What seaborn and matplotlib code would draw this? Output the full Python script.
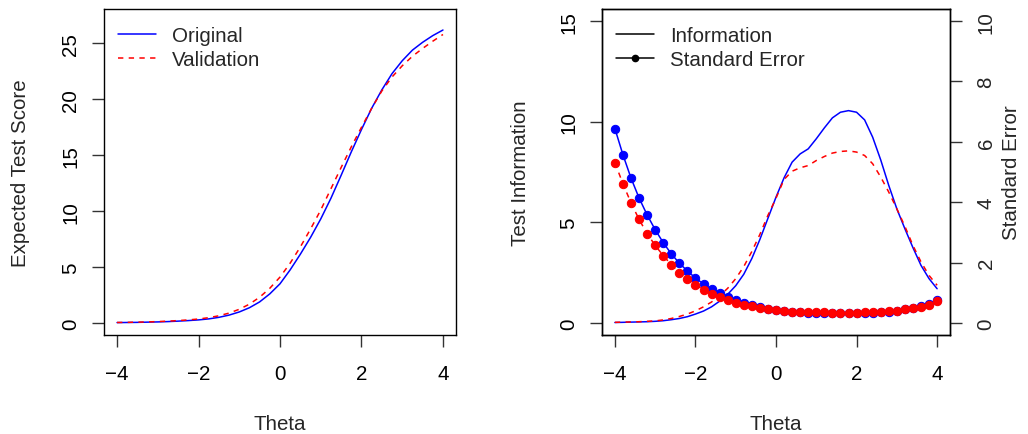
import numpy as np
import matplotlib
matplotlib.use("Agg")
import matplotlib.pyplot as plt
from matplotlib.lines import Line2D
import seaborn as sns

# ---- Expected test score curves (theta step 0.25) ----
theta_score = np.linspace(-4, 4, 33)
score_original = [0.03, 0.04, 0.05, 0.07, 0.09, 0.12, 0.16, 0.21, 0.27, 0.36,
                  0.50, 0.70, 0.98, 1.36, 1.88, 2.60, 3.50, 4.75, 6.15, 7.65,
                  9.30, 11.15, 13.20, 15.30, 17.30, 19.20, 20.85, 22.30, 23.45,
                  24.40, 25.10, 25.70, 26.20]
score_validation = [0.04, 0.05, 0.07, 0.09, 0.12, 0.16, 0.21, 0.27, 0.35, 0.47,
                    0.64, 0.88, 1.22, 1.68, 2.30, 3.10, 4.10, 5.35, 6.80, 8.40,
                    10.10, 12.00, 13.90, 15.75, 17.50, 19.20, 20.75, 22.00,
                    23.00, 23.85, 24.55, 25.20, 25.80]

# ---- Test information and standard error (theta step 0.2) ----
theta_info = np.linspace(-4, 4, 41)
info_original = [0.02, 0.03, 0.04, 0.05, 0.06, 0.08, 0.11, 0.16, 0.22, 0.31,
                 0.44, 0.59, 0.80, 1.08, 1.42, 1.85, 2.42, 3.20, 4.15, 5.20,
                 6.25, 7.21, 7.99, 8.40, 8.65, 9.15, 9.69, 10.19, 10.47, 10.55,
                 10.47, 10.09, 9.23, 8.10, 6.83, 5.67, 4.68, 3.74, 2.86, 2.20,
                 1.70]
info_validation = [0.03, 0.04, 0.05, 0.06, 0.08, 0.10, 0.15, 0.22, 0.32, 0.44,
                   0.60, 0.80, 1.04, 1.35, 1.72, 2.20, 2.80, 3.55, 4.40, 5.35,
                   6.20, 7.13, 7.54, 7.71, 7.82, 8.07, 8.27, 8.44, 8.52, 8.55,
                   8.49, 8.32, 7.91, 7.25, 6.50, 5.67, 4.80, 3.85, 3.03, 2.36,
                   1.87]
se_original = [6.44, 5.57, 4.80, 4.14, 3.58, 3.09, 2.66, 2.29, 1.98, 1.72,
               1.49, 1.29, 1.12, 0.98, 0.86, 0.75, 0.66, 0.60, 0.53, 0.47,
               0.43, 0.38, 0.36, 0.35, 0.34, 0.33, 0.33, 0.32, 0.32, 0.32,
               0.32, 0.33, 0.34, 0.35, 0.37, 0.41, 0.45, 0.49, 0.56, 0.64,
               0.77]
se_validation = [5.31, 4.61, 3.98, 3.43, 2.96, 2.57, 2.23, 1.93, 1.67, 1.46,
                 1.27, 1.10, 0.97, 0.85, 0.75, 0.67, 0.61, 0.55, 0.50, 0.46,
                 0.42, 0.38, 0.37, 0.36, 0.36, 0.355, 0.35, 0.345, 0.34, 0.34,
                 0.34, 0.35, 0.355, 0.37, 0.39, 0.41, 0.45, 0.49, 0.54, 0.61,
                 0.73]

x_ticks = [-4, -2, 0, 2, 4]
score_ticks = [0, 5, 10, 15, 20, 25]
info_ticks = [0, 5, 10, 15]
se_ticks = [0, 2, 4, 6, 8, 10]

BLUE = "#0000FF"
RED = "#FF0000"
DASH = (0, (3.5, 3.5))
FS = 14.8

sns.set_style("ticks")
plt.rcParams["font.family"] = ["Liberation Sans", "DejaVu Sans"]
plt.rcParams["font.size"] = FS
plt.rcParams["axes.edgecolor"] = "black"
plt.rcParams["axes.linewidth"] = 1.0

W, H = 1028, 435
fig = plt.figure(figsize=(W / 100, H / 100), dpi=100)
ax1 = fig.add_axes([104 / W, 99 / H, 352 / W, 326 / H])
ax2 = fig.add_axes([602 / W, 99 / H, 348 / W, 326 / H])
ax2r = ax2.twinx()


def style_axis(ax):
    ax.tick_params(axis="both", direction="out", length=8.6, width=1.0,
                   color="#333333", labelsize=FS, labelcolor="black")
    ax.tick_params(axis="x", pad=12.5)
    ax.tick_params(axis="y", pad=8.5, labelrotation=90)
    for lab in ax.get_yticklabels():
        lab.set_va("center")
    for sp in ax.spines.values():
        sp.set_visible(True)
        sp.set_color("black")
        sp.set_linewidth(1.0)


def add_legend(ax, handles, labels):
    ax.legend(handles=handles, labels=labels, loc="upper left",
              bbox_to_anchor=(-0.011, 1.0), frameon=False, fontsize=FS,
              handlelength=1.85, handletextpad=0.8, borderaxespad=0.45,
              labelspacing=0.22)


# ---- Left panel: expected test score ----
sns.lineplot(x=theta_score, y=score_original, ax=ax1, color=BLUE, lw=1.1)
sns.lineplot(x=theta_score, y=score_validation, ax=ax1, color=RED, lw=1.1,
             linestyle=DASH)
ax1.set_xlim(-4.32, 4.32)
ax1.set_ylim(-1.08, 28.08)
ax1.set_xticks(x_ticks)
ax1.set_yticks(score_ticks)
style_axis(ax1)
ax1.set_xlabel("Theta", fontsize=FS)
ax1.set_ylabel("Expected Test Score", fontsize=FS)
ax1.xaxis.set_label_coords(0.5, -0.243)
ax1.yaxis.set_label_coords(-0.21, 0.5)
add_legend(ax1,
           [Line2D([], [], color=BLUE, lw=1.1),
            Line2D([], [], color=RED, lw=1.1, linestyle=DASH)],
           ["Original", "Validation"])

# ---- Right panel: information (left axis) and standard error (right axis) ----
sns.lineplot(x=theta_info, y=info_original, ax=ax2, color=BLUE, lw=1.1)
sns.lineplot(x=theta_info, y=info_validation, ax=ax2, color=RED, lw=1.1,
             linestyle=DASH)
sns.lineplot(x=theta_info, y=se_original, ax=ax2r, color=BLUE, lw=1.1,
             marker="o", markersize=6.0, markeredgecolor=BLUE)
sns.lineplot(x=theta_info, y=se_validation, ax=ax2r, color=RED, lw=1.1,
             linestyle=DASH, marker="o", markersize=6.0, markeredgecolor=RED)

ax2.set_xlim(-4.32, 4.32)
ax2.set_ylim(-0.6, 15.6)
ax2.set_xticks(x_ticks)
ax2.set_yticks(info_ticks)
style_axis(ax2)
ax2.set_xlabel("Theta", fontsize=FS)
ax2.set_ylabel("Test Information", fontsize=FS)
ax2.xaxis.set_label_coords(0.5, -0.243)
ax2.yaxis.set_label_coords(-0.207, 0.5)

ax2r.set_ylim(-0.4, 10.4)
ax2r.set_yticks(se_ticks)
ax2r.tick_params(axis="y", direction="out", length=8.6, width=1.0,
                 color="#333333", labelsize=FS, pad=10.5, labelrotation=90)
for lab in ax2r.get_yticklabels():
    lab.set_va("center")
ax2r.set_ylabel("Standard Error", fontsize=FS)
ax2r.yaxis.set_label_coords(1.15, 0.5)
add_legend(ax2r,
           [Line2D([], [], color="black", lw=1.1),
            Line2D([], [], color="black", lw=1.1, marker="o", markersize=4.5)],
           ["Information", "Standard Error"])

fig.savefig("out.png", dpi=100)
